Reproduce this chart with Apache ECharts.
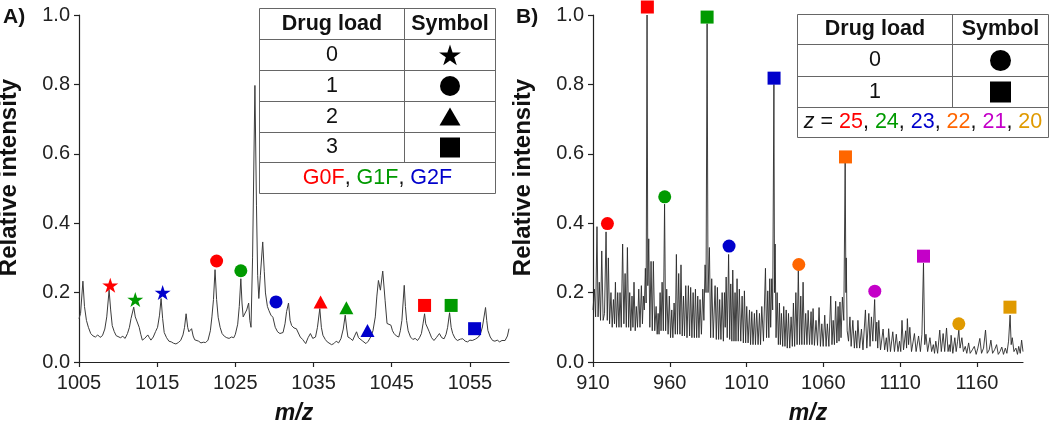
<!DOCTYPE html>
<html><head><meta charset="utf-8">
<script src="https://cdn.jsdelivr.net/npm/echarts@6/dist/echarts.min.js"></script>
<style>html,body{margin:0;padding:0;background:#fff}#c{width:1050px;height:426px}</style>
</head><body><div id="c"></div>
<script>
const FONT = "'Liberation Sans', Arial, Helvetica, sans-serif";

// ---- tick labels ----
const xTicksA = [1005, 1015, 1025, 1035, 1045, 1055];
const xTicksB = [910, 960, 1010, 1060, 1110, 1160];

// ---- panel A spectrum [m/z, relative intensity] ----
const spectrumA = [
[1005.0,0.125],[1005.2,0.14],[1005.5,0.233],[1005.7,0.16],[1005.95,0.12],[1006.2,0.1],[1006.5,0.082],[1006.8,0.075],[1007.1,0.072],[1007.4,0.078],[1007.7,0.071],[1008.0,0.076],[1008.3,0.095],[1008.55,0.13],[1008.85,0.207],[1009.05,0.15],[1009.25,0.105],[1009.5,0.088],[1009.75,0.076],[1010.0,0.08],[1010.3,0.07],[1010.6,0.074],[1010.9,0.068],[1011.2,0.082],[1011.45,0.1],[1011.65,0.125],[1012.0,0.158],[1012.2,0.13],[1012.4,0.118],[1012.7,0.1],[1012.9,0.08],[1013.1,0.063],[1013.4,0.068],[1013.6,0.064],[1013.8,0.078],[1014.0,0.07],[1014.2,0.063],[1014.5,0.072],[1014.8,0.088],[1015.05,0.1],[1015.3,0.135],[1015.5,0.183],[1015.7,0.125],[1015.9,0.085],[1016.2,0.07],[1016.5,0.06],[1016.8,0.058],[1017.1,0.054],[1017.4,0.052],[1017.7,0.056],[1018.0,0.062],[1018.3,0.078],[1018.5,0.1],[1018.7,0.139],[1018.9,0.1],[1019.05,0.087],[1019.25,0.09],[1019.4,0.096],[1019.6,0.075],[1019.8,0.064],[1020.0,0.059],[1020.3,0.06],[1020.6,0.055],[1020.9,0.057],[1021.2,0.056],[1021.5,0.063],[1021.8,0.09],[1022.0,0.13],[1022.2,0.18],[1022.4,0.266],[1022.6,0.18],[1022.8,0.129],[1023.05,0.1],[1023.3,0.082],[1023.6,0.074],[1023.9,0.07],[1024.2,0.068],[1024.5,0.072],[1024.8,0.07],[1025.0,0.08],[1025.3,0.109],[1025.5,0.16],[1025.7,0.24],[1025.85,0.17],[1026.0,0.13],[1026.2,0.125],[1026.45,0.15],[1026.7,0.17],[1026.85,0.12],[1027.0,0.1],[1027.2,0.3],[1027.5,0.797],[1027.7,0.45],[1027.85,0.25],[1028.0,0.183],[1028.2,0.25],[1028.5,0.346],[1028.7,0.26],[1028.85,0.199],[1029.1,0.16],[1029.3,0.148],[1029.55,0.135],[1029.8,0.129],[1030.1,0.1],[1030.4,0.087],[1030.7,0.082],[1031.1,0.085],[1031.35,0.11],[1031.55,0.145],[1031.8,0.17],[1032.0,0.12],[1032.2,0.105],[1032.5,0.098],[1032.8,0.096],[1033.0,0.1],[1033.3,0.072],[1033.6,0.065],[1034.0,0.053],[1034.3,0.07],[1034.6,0.082],[1034.9,0.068],[1035.25,0.072],[1035.5,0.1],[1035.8,0.154],[1036.0,0.1],[1036.2,0.077],[1036.5,0.065],[1036.75,0.058],[1037.0,0.055],[1037.3,0.05],[1037.6,0.053],[1037.9,0.06],[1038.2,0.055],[1038.5,0.067],[1038.8,0.095],[1039.05,0.135],[1039.25,0.095],[1039.4,0.072],[1039.7,0.068],[1040.0,0.062],[1040.25,0.075],[1040.5,0.087],[1040.75,0.07],[1041.0,0.072],[1041.3,0.06],[1041.7,0.053],[1042.0,0.06],[1042.3,0.072],[1042.6,0.09],[1042.9,0.13],[1043.1,0.19],[1043.3,0.235],[1043.55,0.207],[1043.85,0.262],[1044.15,0.178],[1044.4,0.111],[1044.65,0.11],[1044.9,0.106],[1045.1,0.09],[1045.3,0.082],[1045.6,0.075],[1045.9,0.072],[1046.1,0.09],[1046.3,0.12],[1046.6,0.221],[1046.75,0.16],[1046.9,0.12],[1047.1,0.09],[1047.4,0.072],[1047.7,0.065],[1048.0,0.068],[1048.3,0.062],[1048.55,0.07],[1048.8,0.082],[1049.0,0.11],[1049.2,0.139],[1049.35,0.11],[1049.5,0.106],[1049.65,0.095],[1049.8,0.087],[1050.1,0.07],[1050.4,0.062],[1050.7,0.07],[1051.1,0.082],[1051.4,0.07],[1051.7,0.067],[1051.95,0.08],[1052.15,0.1],[1052.4,0.142],[1052.6,0.1],[1052.8,0.082],[1053.1,0.068],[1053.4,0.062],[1053.8,0.066],[1054.1,0.067],[1054.4,0.06],[1054.7,0.058],[1055.0,0.063],[1055.3,0.062],[1055.7,0.066],[1056.1,0.072],[1056.4,0.085],[1056.6,0.101],[1057.0,0.157],[1057.15,0.12],[1057.3,0.091],[1057.6,0.072],[1057.9,0.062],[1058.2,0.06],[1058.5,0.063],[1058.8,0.058],[1059.1,0.062],[1059.5,0.062],[1059.8,0.075],[1060.0,0.096]
];

// ---- panel B spectrum [m/z, relative intensity] ----
const spectrumB = [
[910.0,0.15],[910.9,0.21],[911.7,0.13],[912.6,0.39],[913.3,0.13],[914.1,0.23],[914.9,0.12],[915.7,0.32],[916.6,0.12],[917.5,0.14],[918.5,0.375],[919.3,0.12],[920.0,0.30],[920.8,0.11],[921.7,0.2],[922.5,0.1],[923.3,0.18],[924.0,0.11],[924.6,0.23],[925.3,0.1],[926.1,0.2],[926.9,0.1],[927.6,0.2],[928.4,0.1],[929.3,0.34],[930.1,0.11],[930.9,0.255],[931.7,0.1],[932.4,0.33],[933.2,0.1],[933.9,0.2],[934.6,0.09],[935.4,0.19],[936.0,0.1],[936.7,0.23],[937.5,0.09],[938.2,0.16],[939.0,0.1],[939.8,0.21],[940.6,0.1],[941.5,0.22],[942.2,0.11],[942.8,0.19],[943.4,0.15],[944.1,0.27],[944.6,0.17],[945.2,1.0],[945.7,0.22],[946.3,0.355],[947.0,0.1],[947.8,0.29],[948.6,0.09],[949.3,0.29],[950.2,0.09],[951.1,0.16],[951.8,0.08],[952.4,0.14],[953.0,0.08],[953.7,0.2],[954.3,0.09],[955.0,0.23],[955.8,0.09],[956.6,0.455],[957.3,0.09],[958.0,0.21],[958.9,0.08],[959.7,0.19],[960.5,0.07],[961.3,0.15],[962.0,0.07],[962.8,0.17],[963.6,0.08],[964.3,0.31],[965.0,0.08],[965.8,0.255],[966.6,0.08],[967.3,0.28],[968.1,0.075],[968.9,0.19],[969.6,0.075],[970.4,0.22],[971.2,0.07],[972.1,0.22],[972.9,0.075],[973.6,0.215],[974.4,0.07],[975.2,0.2],[976.0,0.07],[976.7,0.21],[977.5,0.07],[978.2,0.19],[979.0,0.07],[979.7,0.18],[980.6,0.08],[981.5,0.21],[982.2,0.12],[983.0,0.28],[983.6,0.2],[984.3,0.975],[984.9,0.2],[985.8,0.33],[986.6,0.07],[987.3,0.24],[988.3,0.07],[989.5,0.22],[990.3,0.065],[991.0,0.215],[991.8,0.065],[992.5,0.18],[993.3,0.065],[994.1,0.2],[994.9,0.06],[995.6,0.2],[996.1,0.1],[996.7,0.245],[997.4,0.07],[998.3,0.31],[999.0,0.065],[999.7,0.225],[1000.4,0.06],[1001.0,0.265],[1001.8,0.06],[1002.5,0.2],[1003.1,0.06],[1003.8,0.24],[1004.6,0.06],[1005.3,0.21],[1006.2,0.06],[1007.1,0.19],[1007.9,0.055],[1008.6,0.205],[1009.4,0.055],[1010.1,0.16],[1011.0,0.055],[1011.9,0.15],[1012.6,0.05],[1013.4,0.145],[1014.2,0.05],[1015.1,0.14],[1015.8,0.05],[1016.6,0.15],[1017.5,0.05],[1018.4,0.14],[1019.1,0.05],[1019.9,0.16],[1021.0,0.06],[1022.3,0.27],[1023.0,0.07],[1023.8,0.205],[1024.5,0.07],[1025.1,0.24],[1025.7,0.1],[1026.4,0.24],[1027.0,0.15],[1027.8,0.8],[1028.2,0.2],[1028.6,0.34],[1029.2,0.07],[1029.9,0.2],[1030.7,0.05],[1031.4,0.17],[1032.0,0.05],[1032.7,0.14],[1033.5,0.045],[1034.2,0.16],[1035.0,0.045],[1035.8,0.15],[1036.5,0.04],[1037.3,0.14],[1038.1,0.04],[1039.0,0.13],[1039.8,0.045],[1040.5,0.17],[1041.3,0.045],[1042.1,0.2],[1042.9,0.05],[1043.7,0.265],[1044.5,0.05],[1045.3,0.19],[1046.0,0.05],[1046.8,0.23],[1047.6,0.05],[1048.5,0.14],[1049.3,0.05],[1050.1,0.149],[1051.0,0.05],[1052.0,0.145],[1052.6,0.05],[1053.3,0.154],[1054.2,0.048],[1055.2,0.12],[1056.2,0.048],[1057.2,0.157],[1058.1,0.045],[1059.0,0.11],[1059.9,0.045],[1060.9,0.135],[1061.8,0.045],[1062.6,0.11],[1063.6,0.045],[1064.8,0.19],[1065.6,0.05],[1066.4,0.12],[1067.2,0.05],[1068.0,0.175],[1068.8,0.055],[1069.6,0.16],[1070.2,0.06],[1070.8,0.173],[1071.5,0.07],[1072.4,0.187],[1073.3,0.12],[1074.2,0.575],[1074.7,0.2],[1074.9,0.30],[1075.5,0.09],[1076.4,0.06],[1077.3,0.13],[1078.1,0.045],[1079.2,0.12],[1080.2,0.04],[1081.0,0.09],[1081.8,0.04],[1082.5,0.12],[1083.6,0.04],[1084.8,0.095],[1085.8,0.035],[1087.4,0.15],[1088.3,0.04],[1089.6,0.14],[1090.4,0.045],[1091.3,0.13],[1092.2,0.06],[1093.4,0.18],[1094.1,0.06],[1094.8,0.115],[1095.4,0.04],[1096.1,0.12],[1097.2,0.035],[1098.9,0.095],[1099.9,0.035],[1101.0,0.07],[1101.8,0.03],[1102.5,0.096],[1103.7,0.03],[1105.2,0.087],[1106.3,0.03],[1107.5,0.08],[1108.6,0.03],[1109.6,0.06],[1110.4,0.03],[1111.2,0.12],[1112.2,0.035],[1113.6,0.09],[1114.2,0.04],[1114.7,0.125],[1115.5,0.05],[1116.3,0.1],[1117.4,0.03],[1119.3,0.082],[1120.4,0.03],[1122.0,0.075],[1123.2,0.03],[1124.2,0.08],[1125.2,0.285],[1126.0,0.05],[1126.8,0.08],[1127.9,0.03],[1129.4,0.07],[1130.5,0.03],[1131.6,0.05],[1132.4,0.025],[1133.2,0.06],[1134.4,0.025],[1135.8,0.092],[1136.8,0.03],[1138.0,0.082],[1139.0,0.03],[1140.2,0.098],[1141.2,0.03],[1142.0,0.05],[1142.6,0.03],[1143.2,0.077],[1144.3,0.025],[1145.6,0.07],[1146.5,0.03],[1147.4,0.06],[1148.2,0.092],[1149.0,0.04],[1150.2,0.07],[1151.2,0.03],[1152.4,0.045],[1153.4,0.025],[1154.6,0.055],[1155.6,0.025],[1157.0,0.035],[1158.3,0.045],[1159.5,0.022],[1160.6,0.04],[1161.9,0.068],[1163.0,0.025],[1164.3,0.04],[1165.6,0.092],[1166.7,0.025],[1168.0,0.035],[1169.1,0.063],[1170.2,0.025],[1171.5,0.035],[1172.8,0.05],[1173.9,0.022],[1175.0,0.03],[1176.2,0.043],[1177.3,0.022],[1178.5,0.04],[1179.5,0.025],[1180.6,0.06],[1181.6,0.135],[1182.3,0.05],[1183.0,0.07],[1184.1,0.03],[1185.4,0.04],[1186.4,0.022],[1187.2,0.045],[1188.2,0.025],[1189.1,0.063],[1190.0,0.03]
];

// ---- annotated peaks (marker positions) ----
const glycanNames = ['G0F', 'G1F', 'G2F'];
const glycanColors = ['#ff0000', '#009a00', '#0000cc'];
const starsA = [[1009.0, 0.221], [1012.2, 0.18], [1015.7, 0.2]];       // drug load 0
const circlesA = [[1022.6, 0.291], [1025.7, 0.263], [1030.2, 0.173]];  // drug load 1
const trianglesA = [[1035.9, 0.173], [1039.2, 0.156], [1041.9, 0.091]]; // drug load 2
const squaresA = [[1049.2, 0.163], [1052.6, 0.163], [1055.6, 0.096]];  // drug load 3

const charges = ['25', '24', '23', '22', '21', '20'];
const chargeColors = ['#ff0000', '#009a00', '#0000cc', '#ff6600', '#c400c8', '#e09a00'];
const circlesB = [[919.4, 0.399], [956.7, 0.476], [998.6, 0.334], [1044.0, 0.281], [1093.5, 0.204], [1148.2, 0.11]];   // drug load 0
const squaresB = [[945.4, 1.023], [984.3, 0.994], [1027.9, 0.818], [1074.4, 0.591], [1125.2, 0.305], [1181.5, 0.158]]; // drug load 1

const STAR = 'path://M0,-100L22.45,-30.9L95.1,-30.9L36.3,11.8L58.8,80.9L0,38.2L-58.8,80.9L-36.3,11.8L-95.1,-30.9L-22.45,-30.9Z';

const chart = echarts.init(document.getElementById('c'), null, {renderer: 'canvas'});

function xAxisCfg(idx, min, max, ticks) {
  return {
    type: 'value', gridIndex: idx, min: min, max: max,
    name: 'm/z', nameLocation: 'middle', nameGap: 40,
    nameTextStyle: {fontFamily: FONT, fontSize: 23, fontWeight: 'bold', fontStyle: 'italic', color: '#111'},
    axisLine: {show: true, lineStyle: {color: '#222', width: 1.2}},
    axisTick: {show: true, length: 5, lineStyle: {color: '#222', width: 1.2}, customValues: ticks},
    axisLabel: {fontFamily: FONT, fontSize: 20, color: '#222', margin: 11, customValues: ticks, formatter: v => String(v)},
    splitLine: {show: false}
  };
}
function yAxisCfg(idx) {
  return {
    type: 'value', gridIndex: idx, min: 0, max: 1, interval: 0.2,
    name: 'Relative intensity', nameLocation: 'middle', nameGap: 58,
    nameTextStyle: {fontFamily: FONT, fontSize: 24, fontWeight: 'bold', color: '#111', padding: [0, 0, 0, 22]},
    axisLine: {show: true, lineStyle: {color: '#222', width: 1.2}},
    axisTick: {show: true, length: 5, lineStyle: {color: '#222', width: 1.2}},
    axisLabel: {fontFamily: FONT, fontSize: 20, color: '#222', margin: 9, formatter: v => v.toFixed(1)},
    splitLine: {show: false}
  };
}
function markerSeries(idx, pts, colors, symbol, size) {
  return {
    type: 'scatter', xAxisIndex: idx, yAxisIndex: idx, symbol: symbol, symbolSize: size,
    clip: false, z: 5, silent: true,
    data: pts.map((p, i) => ({value: p, itemStyle: {color: colors[i], opacity: 1}}))
  };
}

// ---- legend tables (decoration) ----
const BORDER = '#666';
const TFONT = 21.5;
function hline(x1, x2, y) { return {type: 'line', shape: {x1: x1, y1: y, x2: x2, y2: y}, style: {stroke: BORDER, lineWidth: 1}, silent: true}; }
function vline(x, y1, y2) { return {type: 'line', shape: {x1: x, y1: y1, x2: x, y2: y2}, style: {stroke: BORDER, lineWidth: 1}, silent: true}; }
function txt(x, y, text, bold, extra) {
  const s = {text: text, x: x, y: y, fill: '#111', font: (bold ? 'bold ' : '') + TFONT + 'px ' + FONT,
    align: 'center', verticalAlign: 'middle', textAlign: 'center', textVerticalAlign: 'middle'};
  if (extra) Object.assign(s, extra);
  return {type: 'text', style: s, silent: true, z: 10};
}
function starPts(cx, cy, R) {
  const pts = [];
  for (let k = 0; k < 10; k++) {
    const r = k % 2 === 0 ? R : R * 0.382;
    const a = (-90 + k * 36) * Math.PI / 180;
    pts.push([cx + r * Math.cos(a), cy + r * Math.sin(a)]);
  }
  return pts;
}

const gA = {x1: 259.5, x2: 495.5, xc: 404.5, rows: [8.5, 39.5, 70.5, 101.5, 132.5, 162.5, 193.5]};
const gB = {x1: 797.5, x2: 1048.5, xc: 952.5, rows: [14.5, 44.5, 76.5, 107.5, 137.5]};
const graphics = [];
// panel letters
graphics.push({type: 'text', style: {text: 'A)', x: 3, y: 17, font: 'bold 21px ' + FONT, fill: '#111', verticalAlign: 'middle', textVerticalAlign: 'middle'}});
graphics.push({type: 'text', style: {text: 'B)', x: 516, y: 17, font: 'bold 21px ' + FONT, fill: '#111', verticalAlign: 'middle', textVerticalAlign: 'middle'}});

// table A
graphics.push({type: 'rect', shape: {x: gA.x1, y: gA.rows[0], width: gA.x2 - gA.x1, height: gA.rows[6] - gA.rows[0]}, style: {fill: '#fff', stroke: BORDER, lineWidth: 1}, z: 8, silent: true});
for (let i = 1; i < 6; i++) graphics.push(Object.assign(hline(gA.x1, gA.x2, gA.rows[i]), {z: 9}));
graphics.push(Object.assign(vline(gA.xc, gA.rows[0], gA.rows[5]), {z: 9}));
const cA1 = (gA.x1 + gA.xc) / 2, cA2 = (gA.xc + gA.x2) / 2;
const midA = i => (gA.rows[i] + gA.rows[i + 1]) / 2;
graphics.push(txt(cA1, midA(0), 'Drug load', true));
graphics.push(txt(cA2, midA(0), 'Symbol', true));
['0', '1', '2', '3'].forEach((t, i) => graphics.push(txt(cA1, midA(i + 1), t, false)));
graphics.push({type: 'polygon', shape: {points: starPts(cA2, midA(1) + 1, 11.5)}, style: {fill: '#000'}, z: 10, silent: true});
graphics.push({type: 'circle', shape: {cx: cA2, cy: midA(2), r: 10}, style: {fill: '#000'}, z: 10, silent: true});
graphics.push({type: 'polygon', shape: {points: [[cA2, midA(3) - 9.5], [cA2 + 10.5, midA(3) + 8.5], [cA2 - 10.5, midA(3) + 8.5]]}, style: {fill: '#000'}, z: 10, silent: true});
graphics.push({type: 'rect', shape: {x: cA2 - 10, y: midA(4) - 10, width: 20, height: 20}, style: {fill: '#000'}, z: 10, silent: true});
graphics.push(txt((gA.x1 + gA.x2) / 2, midA(5), '{r|' + glycanNames[0] + '}, {g|' + glycanNames[1] + '}, {b|' + glycanNames[2] + '}', false, {
  rich: {
    r: {fill: glycanColors[0], color: glycanColors[0], fontSize: TFONT, fontFamily: FONT},
    g: {fill: glycanColors[1], color: glycanColors[1], fontSize: TFONT, fontFamily: FONT},
    b: {fill: glycanColors[2], color: glycanColors[2], fontSize: TFONT, fontFamily: FONT}
  }
}));

// table B
graphics.push({type: 'rect', shape: {x: gB.x1, y: gB.rows[0], width: gB.x2 - gB.x1, height: gB.rows[4] - gB.rows[0]}, style: {fill: '#fff', stroke: BORDER, lineWidth: 1}, z: 8, silent: true});
for (let i = 1; i < 4; i++) graphics.push(Object.assign(hline(gB.x1, gB.x2, gB.rows[i]), {z: 9}));
graphics.push(Object.assign(vline(gB.xc, gB.rows[0], gB.rows[3]), {z: 9}));
const cB1 = (gB.x1 + gB.xc) / 2, cB2 = (gB.xc + gB.x2) / 2;
const midB = i => (gB.rows[i] + gB.rows[i + 1]) / 2;
graphics.push(txt(cB1, midB(0), 'Drug load', true));
graphics.push(txt(cB2, midB(0), 'Symbol', true));
graphics.push(txt(cB1, midB(1), '0', false));
graphics.push(txt(cB1, midB(2), '1', false));
graphics.push({type: 'circle', shape: {cx: cB2, cy: midB(1), r: 10.5}, style: {fill: '#000'}, z: 10, silent: true});
graphics.push({type: 'rect', shape: {x: cB2 - 10.5, y: midB(2) - 10.5, width: 21, height: 21}, style: {fill: '#000'}, z: 10, silent: true});
const richB = {it: {fontStyle: 'italic', fontSize: TFONT, fontFamily: FONT, fill: '#111', color: '#111'}};
let zText = '{it|z} = ';
charges.forEach((c, i) => {
  richB['c' + i] = {fill: chargeColors[i], color: chargeColors[i], fontSize: TFONT, fontFamily: FONT};
  zText += '{c' + i + '|' + c + '}' + (i < charges.length - 1 ? ', ' : '');
});
graphics.push(txt((gB.x1 + gB.x2) / 2, midB(3), zText, false, {rich: richB}));

const option = {
  backgroundColor: '#fff',
  animation: false,
  textStyle: {fontFamily: FONT},
  grid: [
    {left: 79, top: 15, width: 430, height: 347, containLabel: false, outerBoundsMode: 'none'},
    {left: 593, top: 15, width: 430, height: 347, containLabel: false, outerBoundsMode: 'none'}
  ],
  xAxis: [xAxisCfg(0, 1005, 1060, xTicksA), xAxisCfg(1, 910, 1190, xTicksB)],
  yAxis: [yAxisCfg(0), yAxisCfg(1)],
  series: [
    {type: 'line', xAxisIndex: 0, yAxisIndex: 0, data: spectrumA, showSymbol: false, symbol: 'none', smooth: false,
      lineStyle: {color: '#3c3c3c', width: 1}, silent: true, z: 2},
    {type: 'line', xAxisIndex: 1, yAxisIndex: 1, data: spectrumB, showSymbol: false, symbol: 'none', smooth: false,
      lineStyle: {color: '#2a2a2a', width: 0.9}, silent: true, z: 2},
    markerSeries(0, starsA, glycanColors, STAR, [16, 15]),
    markerSeries(0, circlesA, glycanColors, 'circle', 13),
    markerSeries(0, trianglesA, glycanColors, 'triangle', [14, 13]),
    markerSeries(0, squaresA, glycanColors, 'rect', 13),
    markerSeries(1, circlesB, chargeColors, 'circle', 13),
    markerSeries(1, squaresB, chargeColors, 'rect', 13)
  ],
  graphic: graphics
};
chart.setOption(option);
</script>
</body></html>
